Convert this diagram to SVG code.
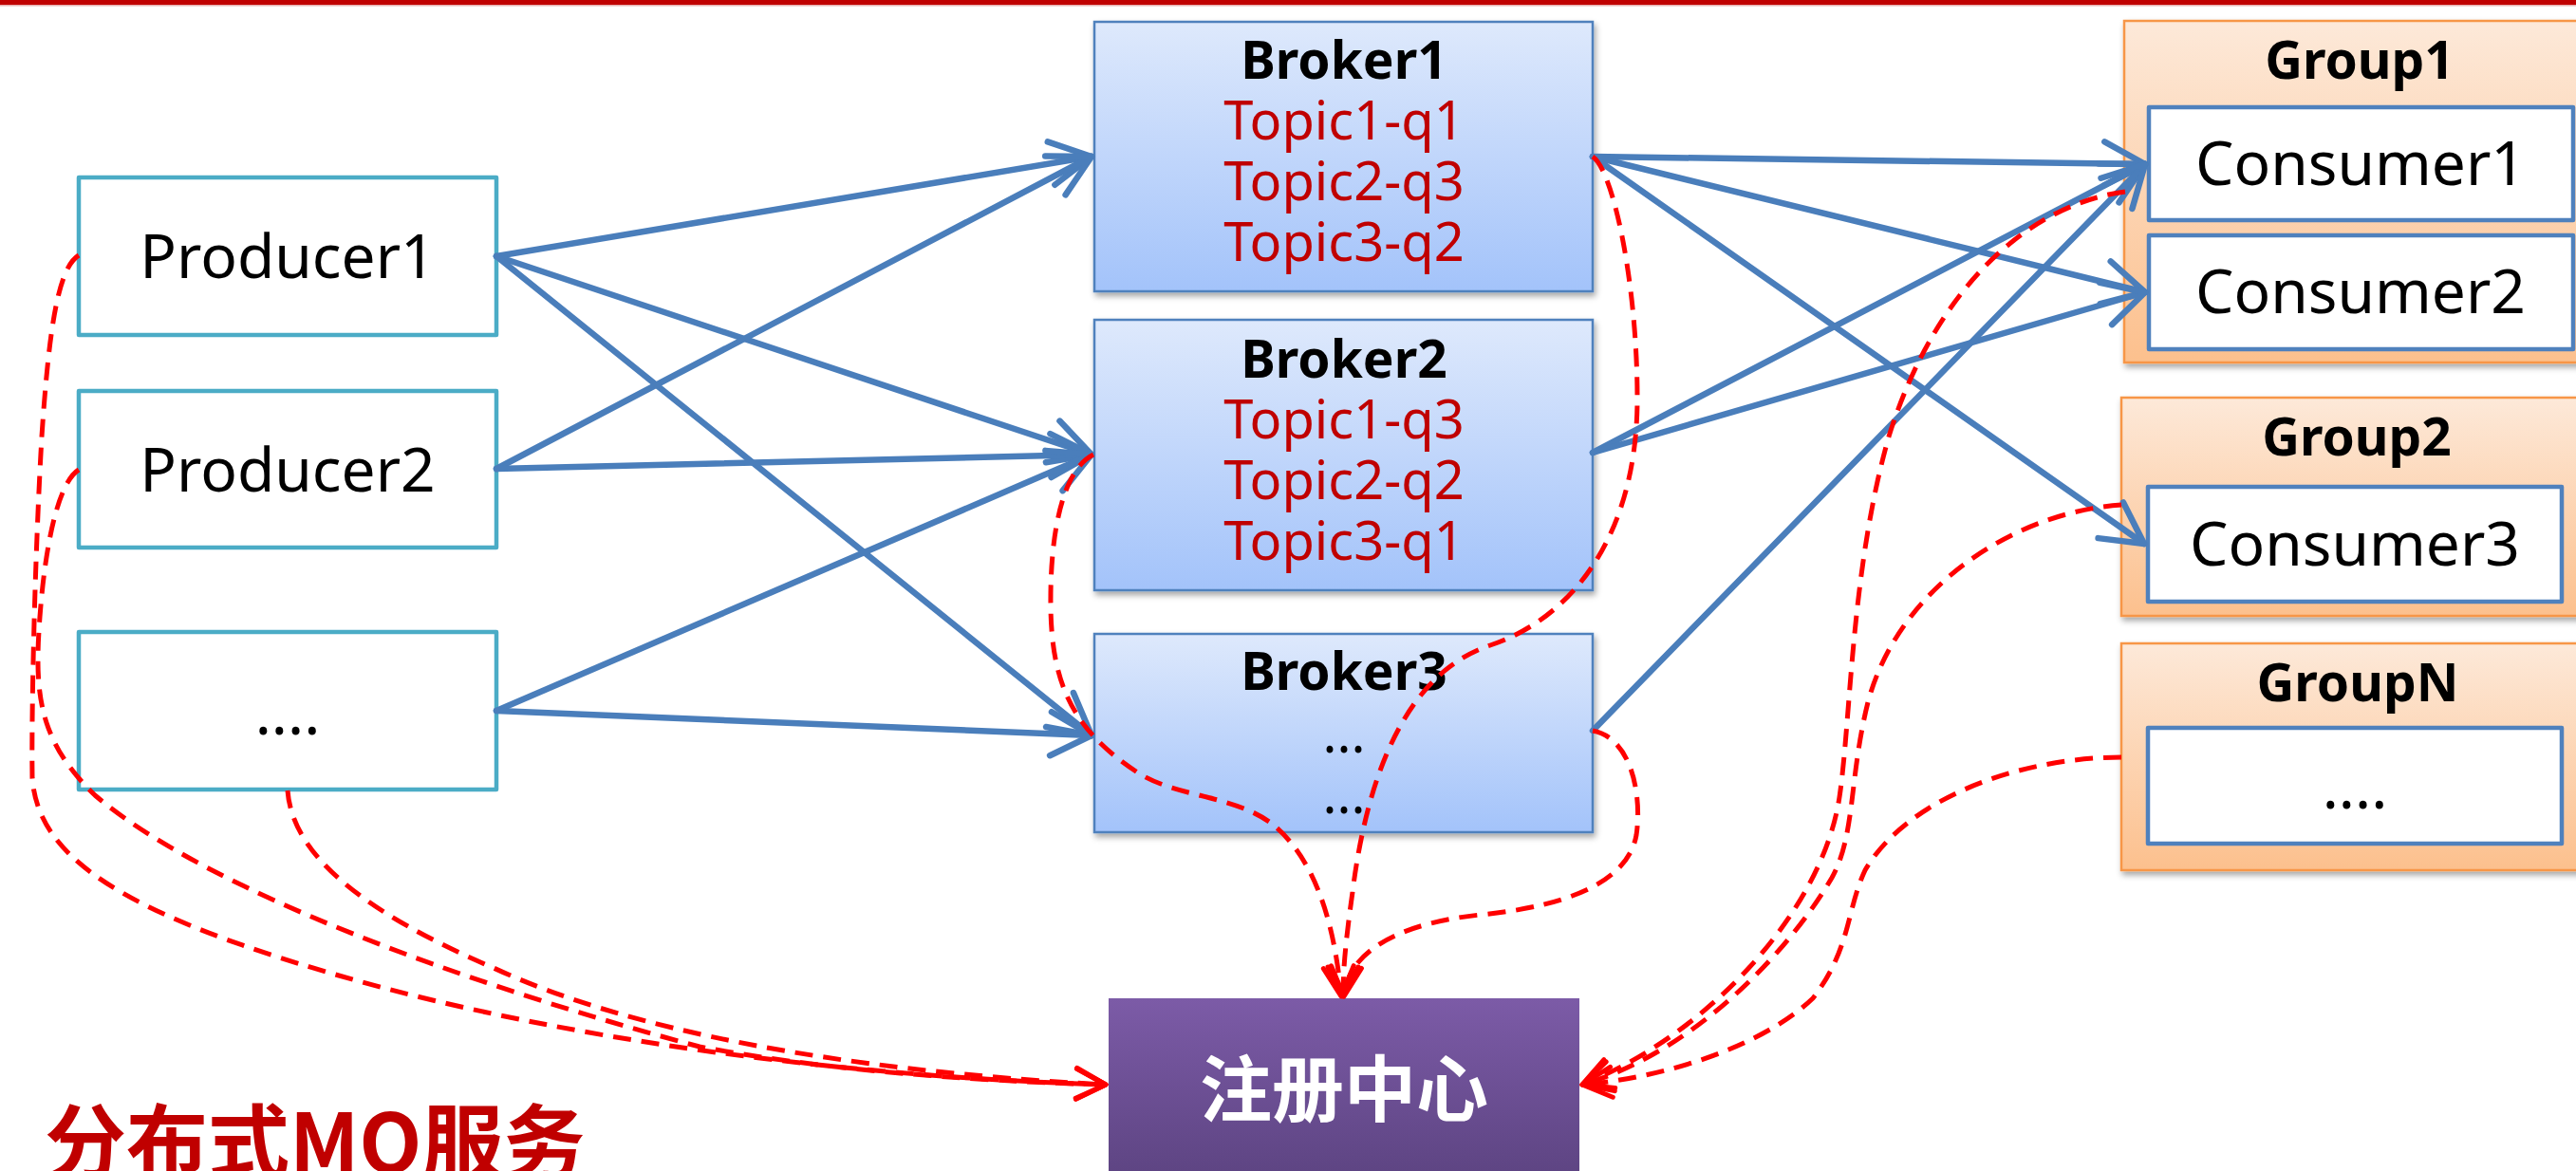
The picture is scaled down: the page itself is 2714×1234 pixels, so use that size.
<svg xmlns="http://www.w3.org/2000/svg" width="2714" height="1234" viewBox="0 0 2714 1234">
  <defs>
    <linearGradient id="g-broker" x1="0" y1="0" x2="0" y2="1">
      <stop offset="0" stop-color="#DEE9FC"/>
      <stop offset="1" stop-color="#A3C3FA"/>
    </linearGradient>
    <linearGradient id="g-group" x1="0" y1="0" x2="0" y2="1">
      <stop offset="0" stop-color="#FDE9D9"/>
      <stop offset="1" stop-color="#FCC08D"/>
    </linearGradient>
    <linearGradient id="g-registry" x1="0" y1="0" x2="0" y2="1">
      <stop offset="0" stop-color="#7C5BA7"/>
      <stop offset="1" stop-color="#5D4482"/>
    </linearGradient>
    <filter id="shadow" x="-10%" y="-10%" width="130%" height="130%">
      <feDropShadow dx="2" dy="4" stdDeviation="3" flood-color="#000" flood-opacity="0.35"/>
    </filter>
    <marker id="arrow-blue" markerUnits="userSpaceOnUse" orient="auto" overflow="visible" refX="0" refY="0" markerWidth="1" markerHeight="1">
      <path d="M-43,-23 L0,0 L-43,23" fill="none" stroke="#4A7EBB" stroke-width="6.5" stroke-linecap="round" stroke-linejoin="round"/>
    </marker>
    <marker id="arrow-red" markerUnits="userSpaceOnUse" orient="auto" overflow="visible" refX="0" refY="0" markerWidth="1" markerHeight="1">
      <path d="M-31,-16 L0,0 L-31,16" fill="none" stroke="#FF0000" stroke-width="5" stroke-linecap="round" stroke-linejoin="round" stroke-dasharray="none"/>
    </marker>
    <style>
      .producer { fill: #FFFFFF; stroke: #4BACC6; stroke-width: 4.5; stroke-linejoin: round; }
      .broker { fill: url(#g-broker); stroke: #4F81BD; stroke-width: 2.5; filter: url(#shadow); }
      .group { fill: url(#g-group); stroke: #F79646; stroke-width: 2.5; filter: url(#shadow); }
      .consumer { fill: #FFFFFF; stroke: #4F81BD; stroke-width: 4.5; stroke-linejoin: round; }
      .registry { fill: url(#g-registry); }
      .label { font-family: "Noto Sans", "Open Sans", sans-serif; font-size: 64px; fill: #000; text-anchor: middle; }
      .title { font-family: "Noto Sans", "Open Sans", sans-serif; font-size: 55px; font-weight: bold; fill: #000; text-anchor: middle; }
      .topic { font-family: "Noto Sans", "Open Sans", sans-serif; font-size: 56px; fill: #C00000; text-anchor: middle; }
      .dots { font-family: "Noto Sans", "Open Sans", sans-serif; font-size: 56px; fill: #000; text-anchor: middle; }
      .flow { fill: none; stroke: #4A7EBB; stroke-width: 6.5; stroke-linecap: round; marker-end: url(#arrow-blue); }
      .reg { fill: none; stroke: #FF0000; stroke-width: 5; stroke-dasharray: 19 11; marker-end: url(#arrow-red); }
    </style>
  </defs>

  <rect width="2714" height="1234" fill="#FFFFFF"/>

  <!-- slide header rule -->
  <rect x="0" y="0" width="2714" height="5" fill="#C00000"/>
  <rect x="0" y="5" width="2714" height="1.5" fill="#E7B0B0"/>

  <!-- producers -->
  <g id="producer1">
    <rect class="producer" x="83" y="187" width="440" height="166"/>
    <text class="label" x="303" y="293">Producer1</text>
  </g>
  <g id="producer2">
    <rect class="producer" x="83" y="412" width="440" height="165"/>
    <text class="label" x="303" y="518">Producer2</text>
  </g>
  <g id="producer-more">
    <rect class="producer" x="83" y="666" width="440" height="166"/>
    <text class="label" x="303" y="774">....</text>
  </g>

  <!-- brokers -->
  <g id="broker1">
    <rect class="broker" x="1153" y="23" width="525" height="284"/>
    <text class="title" x="1416" y="83">Broker1</text>
    <text class="topic" x="1416" y="147">Topic1-q1</text>
    <text class="topic" x="1416" y="211">Topic2-q3</text>
    <text class="topic" x="1416" y="275">Topic3-q2</text>
  </g>
  <g id="broker2">
    <rect class="broker" x="1153" y="337" width="525" height="285"/>
    <text class="title" x="1416" y="398">Broker2</text>
    <text class="topic" x="1416" y="462">Topic1-q3</text>
    <text class="topic" x="1416" y="526">Topic2-q2</text>
    <text class="topic" x="1416" y="590">Topic3-q1</text>
  </g>
  <g id="broker3">
    <rect class="broker" x="1153" y="668" width="525" height="209"/>
    <text class="title" x="1416" y="727">Broker3</text>
    <text class="dots" x="1416" y="793">...</text>
    <text class="dots" x="1416" y="857">...</text>
  </g>

  <!-- consumer groups -->
  <g id="group1">
    <rect class="group" x="2238" y="22" width="500" height="360"/>
    <text class="title" x="2486" y="83">Group1</text>
    <g id="consumer1">
      <rect class="consumer" x="2264" y="113" width="447" height="119"/>
      <text class="label" x="2487" y="195">Consumer1</text>
    </g>
    <g id="consumer2">
      <rect class="consumer" x="2264" y="248" width="447" height="120"/>
      <text class="label" x="2487" y="330">Consumer2</text>
    </g>
  </g>
  <g id="group2">
    <rect class="group" x="2235" y="419" width="500" height="230"/>
    <text class="title" x="2483" y="480">Group2</text>
    <g id="consumer3">
      <rect class="consumer" x="2263" y="513" width="436" height="121"/>
      <text class="label" x="2481" y="596">Consumer3</text>
    </g>
  </g>
  <g id="groupN">
    <rect class="group" x="2235" y="678" width="500" height="239"/>
    <text class="title" x="2484" y="739">GroupN</text>
    <g id="consumer-more">
      <rect class="consumer" x="2263" y="767" width="436" height="122"/>
      <text class="label" x="2481" y="852">....</text>
    </g>
  </g>

  <!-- registry -->
  <g id="registry">
    <rect class="registry" x="1168" y="1052" width="496" height="190"/>
    <text x="1416" y="1176" font-family="'Noto Sans CJK SC', sans-serif" font-size="76" font-weight="bold" fill="#FFFFFF" text-anchor="middle">注册中心</text>
  </g>

  <!-- caption -->
  <text id="caption" x="47" y="1236" font-family="'Noto Sans CJK SC', sans-serif" font-size="86" font-weight="bold" fill="#C00000">分布式MQ服务</text>

  <g id="connectors">
    <!-- producers to brokers -->
    <line class="flow" x1="523" y1="270" x2="1150" y2="165"/>
    <line class="flow" x1="523" y1="270" x2="1150" y2="479"/>
    <line class="flow" x1="523" y1="270" x2="1150" y2="775"/>
    <line class="flow" x1="523" y1="494" x2="1150" y2="165"/>
    <line class="flow" x1="523" y1="494" x2="1150" y2="479"/>
    <line class="flow" x1="523" y1="749" x2="1150" y2="479"/>
    <line class="flow" x1="523" y1="749" x2="1150" y2="775"/>
    <!-- brokers to consumers -->
    <line class="flow" x1="1678" y1="165" x2="2260" y2="173"/>
    <line class="flow" x1="1678" y1="165" x2="2260" y2="308"/>
    <line class="flow" x1="1678" y1="165" x2="2259" y2="573"/>
    <line class="flow" x1="1678" y1="477" x2="2260" y2="173"/>
    <line class="flow" x1="1678" y1="477" x2="2260" y2="308"/>
    <line class="flow" x1="1678" y1="770" x2="2260" y2="173"/>

    <!-- registrations: producers -->
    <path class="reg" d="M83,269 C62,282 52,340 44,460 C36,600 33,760 34,820 C40,900 120,960 357,1028 C600,1098 900,1135 1165,1143"/>
    <path class="reg" d="M83,495 C62,508 48,570 42,650 C36,730 40,780 100,838 C220,940 500,1040 737,1103 C880,1130 1050,1140 1165,1143"/>
    <path class="reg" d="M303,833 C308,900 380,960 520,1020 C660,1085 880,1128 1165,1143"/>
    <!-- registrations: brokers -->
    <path class="reg" d="M1678,165 C1700,180 1725,300 1725,420 C1725,560 1660,650 1570,680 C1480,710 1440,820 1425,940 C1418,990 1415,1020 1415,1050"/>
    <path class="reg" d="M1152,479 C1120,495 1106,560 1107,640 C1108,720 1130,770 1200,815 C1240,840 1300,838 1340,868 C1380,900 1405,960 1413,1050"/>
    <path class="reg" d="M1678,770 C1720,778 1730,840 1724,880 C1715,930 1650,955 1560,964 C1480,972 1420,1000 1416,1050"/>
    <!-- registrations: consumer groups -->
    <path class="reg" d="M2239,202 C2140,215 2040,300 1990,460 C1950,600 1950,760 1938,840 C1920,960 1800,1090 1667,1143"/>
    <path class="reg" d="M2235,532 C2120,540 2000,620 1968,740 C1948,820 1955,880 1930,925 C1880,1010 1780,1110 1667,1143"/>
    <path class="reg" d="M2235,798 C2130,798 2010,840 1965,917 C1945,960 1950,1000 1910,1052 C1860,1100 1760,1135 1667,1143"/>
  </g>
</svg>
